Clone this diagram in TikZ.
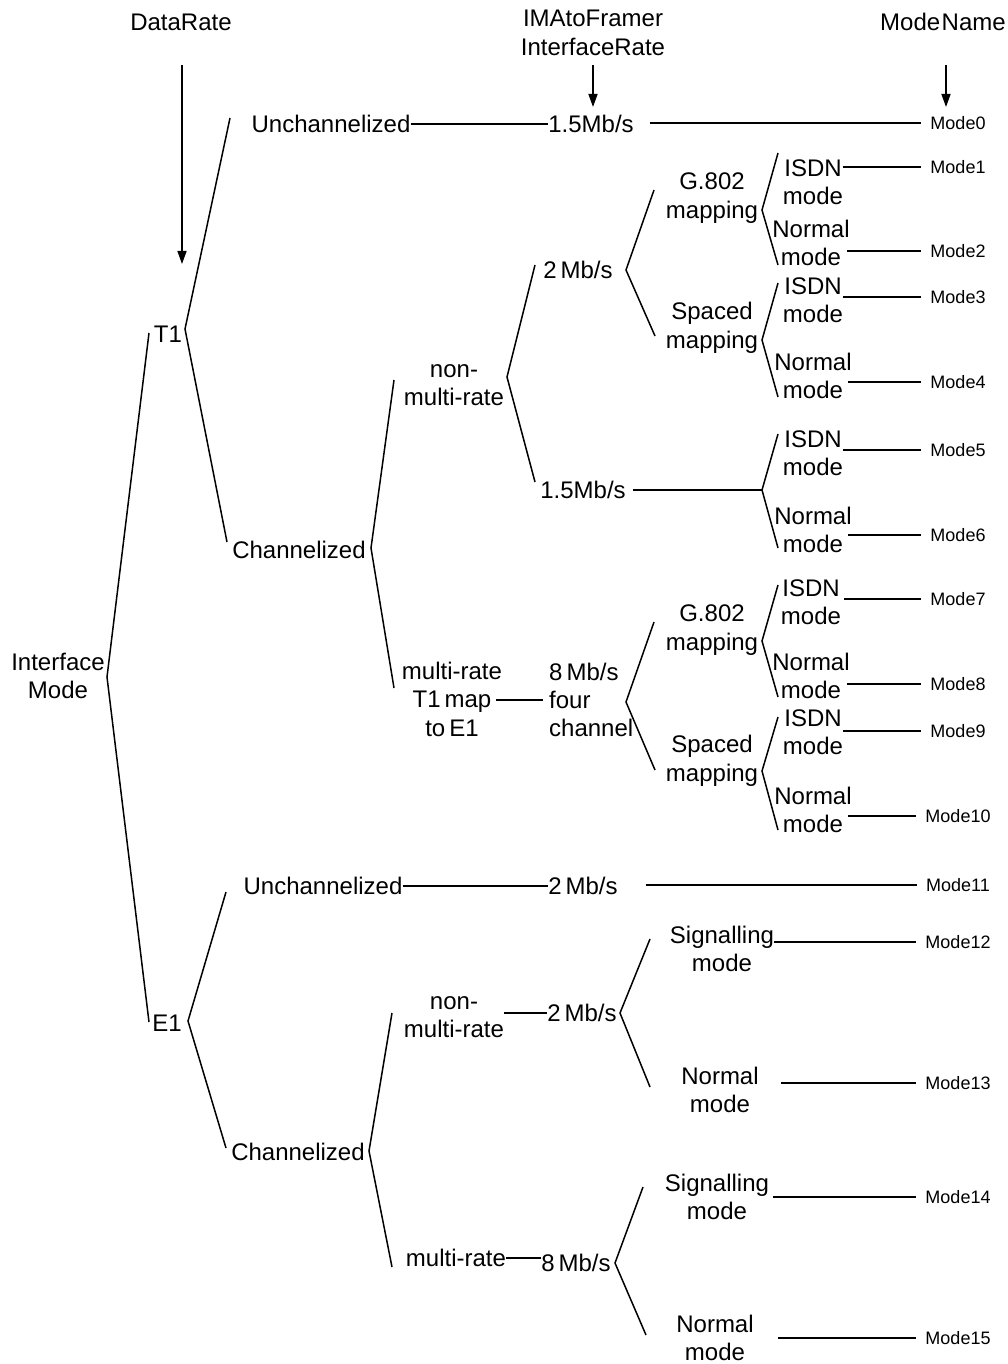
\documentclass[tikz,border=0pt]{standalone}
\usepackage{fontspec}
\setmainfont{Liberation Sans}
\usetikzlibrary{arrows.meta}
\begin{document}
\begin{tikzpicture}[x=1pt,y=-1pt,
  lbl/.style={inner sep=0pt,align=center,font=\fontsize{24}{28.5}\selectfont},
  lbll/.style={inner sep=0pt,align=left,font=\fontsize{24}{28}\selectfont},
  mode/.style={inner ysep=0pt,inner xsep=9pt,font=\fontsize{18}{20}\selectfont},
  ln/.style={line width=1.5pt,line join=miter},
  arr/.style={line width=1.5pt,-{Triangle[length=13pt,width=9pt]}}]
\useasboundingbox (0,0) rectangle (1008,1364);
% headers
\node[lbl] (hDR) at (181,22) {DataRate};
\node[lbl] (hIMA) at (593,33) {IMAtoFramer\\InterfaceRate};
\node[lbl] (hMN) at (943,22) {Mode\kern1.5pt Name};
\coordinate (aDRs) at (182,65); \coordinate (aDRe) at (182,264);
\coordinate (aIMs) at (593,65); \coordinate (aIMe) at (593,107);
\coordinate (aMNs) at (946,65); \coordinate (aMNe) at (946,107);
\draw[arr] (aDRs) -- (aDRe);
\draw[arr] (aIMs) -- (aIMe);
\draw[arr] (aMNs) -- (aMNe);
% root
\node[lbl] (im) at (58,676) {Interface\\Mode};
\coordinate (v0) at (107,677); \coordinate (v0u) at (149,333); \coordinate (v0d) at (149,1022);
\draw[ln] (v0u) -- (v0) -- (v0d);
% T1
\node[lbl] (t1) at (168,334) {T1};
\coordinate (vt1) at (185,329); \coordinate (vt1u) at (230,118); \coordinate (vt1d) at (227,542);
\draw[ln] (vt1u) -- (vt1) -- (vt1d);
\node[lbl] (un1) at (331,124) {Unchannelized};
\node[lbl] (r15a) at (591,124) {1.5Mb/s};
\node[mode] (m0) at (958,123) {Mode0};
\draw[ln] (un1.east) -- (r15a.west);
\draw[ln] ([xshift=16pt]r15a.east |- m0) -- (m0);
\node[lbl] (ch1) at (299,550) {Channelized};
\coordinate (vc1) at (371,548); \coordinate (vc1u) at (394,380); \coordinate (vc1d) at (394,688);
\draw[ln] (vc1u) -- (vc1) -- (vc1d);
\node[lbl] (nm1) at (454,385) {non-\\multi-rate};
\coordinate (vn1) at (507,377); \coordinate (vn1u) at (535,265); \coordinate (vn1d) at (535,482);
\draw[ln] (vn1u) -- (vn1) -- (vn1d);
\node[lbl] (r2a) at (578,270) {2\,Mb/s};
\coordinate (vr2a) at (626,270); \coordinate (vr2au) at (654,190); \coordinate (vr2ad) at (655,336);
\draw[ln] (vr2au) -- (vr2a) -- (vr2ad);
% G.802 block 1
\node[lbl] (g1) at (712,198) {G.802\\mapping};
\coordinate (vg1) at (762,210); \coordinate (vg1u) at (778,153); \coordinate (vg1d) at (778,265);
\draw[ln] (vg1u) -- (vg1) -- (vg1d);
\node[lbl] (i1) at (813,182) {ISDN\\mode};
\node[mode] (m1) at (958,167) {Mode1};
\draw[ln] (i1.east |- m1) -- (m1);
\node[lbl] (n2) at (811,243) {Normal\\mode};
\node[mode] (m2) at (958,251) {Mode2};
\draw[ln] ([xshift=-3pt]n2.east |- m2) -- (m2);
% Spaced block 1
\node[lbl] (s1) at (712,328) {Spaced\\mapping};
\coordinate (vs1) at (762,340); \coordinate (vs1u) at (778,283); \coordinate (vs1d) at (778,397);
\draw[ln] (vs1u) -- (vs1) -- (vs1d);
\node[lbl] (i3) at (813,300) {ISDN\\mode};
\node[mode] (m3) at (958,297) {Mode3};
\draw[ln] (i3.east |- m3) -- (m3);
\node[lbl] (n4) at (813,376) {Normal\\mode};
\node[mode] (m4) at (958,382) {Mode4};
\draw[ln] ([xshift=-4pt]n4.east |- m4) -- (m4);
% 1.5 Mb/s channelized
\node[lbl] (r15b) at (583,490) {1.5Mb/s};
\coordinate (vr15) at (762,490); \coordinate (vr15u) at (778,434); \coordinate (vr15d) at (778,548);
\draw[ln] ([xshift=7pt]r15b.east |- vr15) -- (vr15);
\draw[ln] (vr15u) -- (vr15) -- (vr15d);
\node[lbl] (i5) at (813,453) {ISDN\\mode};
\node[mode] (m5) at (958,450) {Mode5};
\draw[ln] (i5.east |- m5) -- (m5);
\node[lbl] (n6) at (813,530) {Normal\\mode};
\node[mode] (m6) at (958,535) {Mode6};
\draw[ln] ([xshift=-4pt]n6.east |- m6) -- (m6);
% multi-rate T1
\node[lbl] (mr1) at (452,699) {multi-rate\\T1\,map\\to\,E1};
\node[lbll,anchor=west] (r8a) at (549,700) {8\,Mb/s\\four\\channel};
\coordinate (mr1o) at (496,700);
\draw[ln] (mr1o) -- ([xshift=-6pt]r8a.west |- mr1o);
\coordinate (vr8) at (626,702); \coordinate (vr8u) at (654,622); \coordinate (vr8d) at (655,770);
\draw[ln] (vr8u) -- (vr8) -- (vr8d);
\node[lbl] (g2) at (712,630) {G.802\\mapping};
\coordinate (vg2) at (762,641); \coordinate (vg2u) at (778,585); \coordinate (vg2d) at (778,697);
\draw[ln] (vg2u) -- (vg2) -- (vg2d);
\node[lbl] (i7) at (811,602) {ISDN\\mode};
\node[mode] (m7) at (958,599) {Mode7};
\draw[ln] ([xshift=3pt]i7.east |- m7) -- (m7);
\node[lbl] (n8) at (811,676) {Normal\\mode};
\node[mode] (m8) at (958,684) {Mode8};
\draw[ln] ([xshift=-3pt]n8.east |- m8) -- (m8);
\node[lbl] (s2) at (712,761) {Spaced\\mapping};
\coordinate (vs2) at (762,771); \coordinate (vs2u) at (778,717); \coordinate (vs2d) at (778,830);
\draw[ln] (vs2u) -- (vs2) -- (vs2d);
\node[lbl] (i9) at (813,732) {ISDN\\mode};
\node[mode] (m9) at (958,731) {Mode9};
\draw[ln] (i9.east |- m9) -- (m9);
\node[lbl] (n10) at (813,810) {Normal\\mode};
\node[mode] (m10) at (958,816) {Mode10};
\draw[ln] ([xshift=-4pt]n10.east |- m10) -- (m10);
% E1
\node[lbl] (e1) at (167,1023) {E1};
\coordinate (ve1) at (188,1021); \coordinate (ve1u) at (226,892); \coordinate (ve1d) at (226,1148);
\draw[ln] (ve1u) -- (ve1) -- (ve1d);
\node[lbl] (un2) at (323,886) {Unchannelized};
\node[lbl] (r2b) at (583,886) {2\,Mb/s};
\node[mode] (m11) at (958,885) {Mode11};
\draw[ln] (un2.east) -- (r2b.west);
\draw[ln] ([xshift=28pt]r2b.east |- m11) -- (m11);
\node[lbl] (ch2) at (298,1152) {Channelized};
\coordinate (vc2) at (369,1151); \coordinate (vc2u) at (392,1013); \coordinate (vc2d) at (392,1267);
\draw[ln] (vc2u) -- (vc2) -- (vc2d);
\node[lbl] (nm2) at (454,1017) {non-\\multi-rate};
\node[lbl] (r2c) at (582,1013) {2\,Mb/s};
\draw[ln] (nm2.east |- r2c) -- (r2c.west);
\coordinate (vr2c) at (620,1013); \coordinate (vr2cu) at (650,939); \coordinate (vr2cd) at (650,1087);
\draw[ln] (vr2cu) -- (vr2c) -- (vr2cd);
\node[lbl] (sg12) at (722,949) {Signalling\\mode};
\node[mode] (m12) at (958,942) {Mode12};
\draw[ln] (sg12.east |- m12) -- (m12);
\node[lbl] (nn13) at (720,1090) {Normal\\mode};
\node[mode] (m13) at (958,1083) {Mode13};
\draw[ln] ([xshift=22pt]nn13.east |- m13) -- (m13);
\node[lbl] (mr2) at (456,1258) {multi-rate};
\node[lbl] (r8b) at (576,1263) {8\,Mb/s};
\draw[ln] (mr2.east) -- (r8b.west |- mr2.east);
\coordinate (vr8b) at (615,1263); \coordinate (vr8bu) at (643,1187); \coordinate (vr8bd) at (646,1335);
\draw[ln] (vr8bu) -- (vr8b) -- (vr8bd);
\node[lbl] (sg14) at (717,1197) {Signalling\\mode};
\node[mode] (m14) at (958,1197) {Mode14};
\draw[ln] ([xshift=4pt]sg14.east |- m14) -- (m14);
\node[lbl] (nn15) at (715,1338) {Normal\\mode};
\node[mode] (m15) at (958,1338) {Mode15};
\draw[ln] ([xshift=24pt]nn15.east |- m15) -- (m15);
\end{tikzpicture}
\end{document}
